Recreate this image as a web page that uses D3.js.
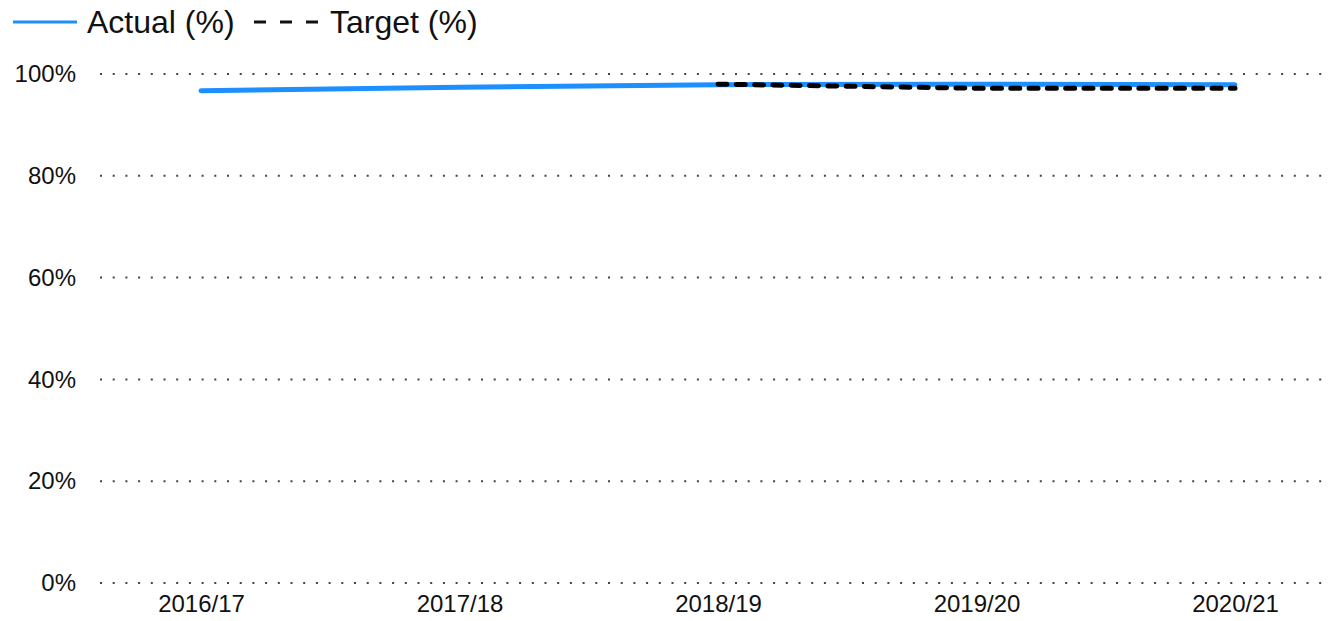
<!DOCTYPE html>
<html>
<head>
<meta charset="utf-8">
<script src="https://cdn.jsdelivr.net/npm/d3@7"></script>
<style>
  html, body { margin: 0; padding: 0; background: #fff; }
  svg { display: block; font-family: "Liberation Sans", Arial, sans-serif; }
</style>
</head>
<body>
<svg id="chart" width="1332" height="621"></svg>
<script>
// Financial years on the x axis
const years = ["2016/17", "2017/18", "2018/19", "2019/20", "2020/21"];
// Actual performance (%) for every year
const actual = [96.7, 97.4, 97.9, 98.0, 97.9];
// Target (%) — set from 2018/19 onwards
const targetYears = ["2018/19", "2019/20", "2020/21"];
const target = [98.0, 97.2, 97.2];
// Y axis ticks
const yTicks = [0, 20, 40, 60, 80, 100];

const svg = d3.select("#chart");
const gridLeft = 100, gridRight = 1325;
const plotTop = 74, plotBottom = 583;
const tickFont = 24;

const x = d3.scalePoint().domain(years).range([201, 1235]);
const y = d3.scaleLinear().domain([0, 100]).range([plotBottom, plotTop]);

// Dotted horizontal gridlines
svg.append("g").selectAll("line").data(yTicks).join("line")
  .attr("x1", gridLeft).attr("x2", gridRight)
  .attr("y1", d => y(d)).attr("y2", d => y(d))
  .attr("stroke", "#444").attr("stroke-width", 2)
  .attr("stroke-dasharray", "2,10.7");

// Y axis labels
const yAxis = d3.axisLeft(y).tickValues(yTicks).tickFormat(d => d + "%").tickSize(0).tickPadding(0);
const gy = svg.append("g").attr("transform", "translate(76,0)").call(yAxis);
gy.select(".domain").remove();
gy.selectAll("text").attr("font-size", tickFont).attr("fill", "#111")
  .attr("font-family", "'Liberation Sans', Arial, sans-serif");

// X axis labels
const xAxis = d3.axisBottom(x).tickSize(0).tickPadding(0);
const gx = svg.append("g").attr("transform", "translate(0,595)").call(xAxis);
gx.select(".domain").remove();
gx.selectAll("text").attr("font-size", tickFont).attr("fill", "#111")
  .attr("font-family", "'Liberation Sans', Arial, sans-serif");

const line = d3.line().x(d => x(d[0])).y(d => y(d[1]));

// Actual series
svg.append("path")
  .datum(years.map((yr, i) => [yr, actual[i]]))
  .attr("d", line)
  .attr("fill", "none").attr("stroke", "#1e8fff")
  .attr("stroke-width", 5).attr("stroke-linecap", "round").attr("stroke-linejoin", "round");

// Target series
svg.append("path")
  .datum(targetYears.map((yr, i) => [yr, target[i]]))
  .attr("d", line)
  .attr("fill", "none").attr("stroke", "#000")
  .attr("stroke-width", 5).attr("stroke-linecap", "round")
  .attr("stroke-dasharray", "9,9.3");

// Legend
const legend = svg.append("g");
legend.append("line").attr("x1", 13).attr("x2", 77).attr("y1", 22).attr("y2", 22)
  .attr("stroke", "#1e8fff").attr("stroke-width", 3);
legend.append("text").attr("x", 87).attr("y", 33).attr("font-size", 32).attr("fill", "#111")
  .text("Actual (%)");
legend.append("line").attr("x1", 254).attr("x2", 318).attr("y1", 22).attr("y2", 22)
  .attr("stroke", "#111").attr("stroke-width", 3).attr("stroke-dasharray", "12,14");
legend.append("text").attr("x", 330).attr("y", 33).attr("font-size", 32).attr("fill", "#111")
  .text("Target (%)");
</script>
</body>
</html>
